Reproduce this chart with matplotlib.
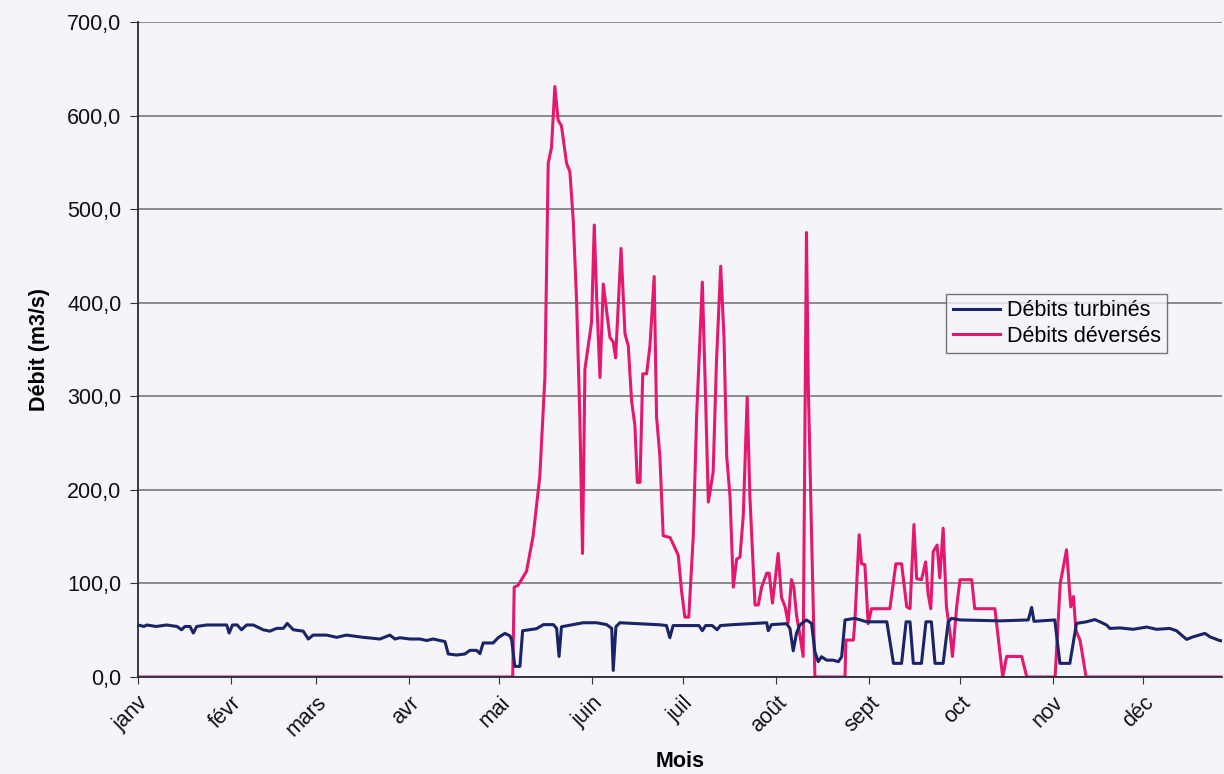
import matplotlib
matplotlib.use("Agg")
import matplotlib.pyplot as plt

plt.rcParams['font.family'] = ['Liberation Sans', 'DejaVu Sans']

# Month labels and first day-of-year of each month
months = ["janv", "févr", "mars", "avr", "mai", "juin", "juil", "août",
          "sept", "oct", "nov", "déc"]
month_start = [0, 31, 59, 90, 120, 151, 181, 212, 243, 273, 304, 334]

# Débits turbinés (day of year, m3/s)
turb_days = [0, 2, 3, 6, 9.5, 13, 14.5, 15.6, 17.3, 18.4, 19.5, 22.8, 29.5, 30.3, 31.4,
             33, 34.4, 36.1, 38.3, 41.6, 43.8, 46.1, 48.3, 49.6, 51.6, 54.9, 56.6,
             58.2, 62.7, 66, 69.3, 74.9, 80.4, 83.7, 85.4, 87, 90.4, 93.7, 95.9,
             98.1, 100.3, 102, 103.1, 105.9, 108.6, 110.3, 112.5, 113.6, 114.7,
             118, 119.7, 121.9, 123.6, 124.2, 125.2, 126.9, 127.8, 132.4, 134.7,
             138, 139.1, 139.9, 140.7, 147.9, 152.4, 155.7, 157.4, 157.9, 158.8,
             160.1, 173.4, 175.6, 176.7, 177.8, 186.4, 187.5, 188.6, 190.8, 192.4,
             193.5, 197.8, 208.9, 209.4, 210.5, 215.5, 216.6, 217.7, 218.8, 219.9,
             222.1, 223.8, 224.9, 226, 227.1, 228.8, 231, 232.7, 233.8, 234.9,
             238.2, 242.1, 248.8, 251, 253.7, 255.2, 256.5, 257.6, 260.3, 261.8,
             263.6, 264.8, 267.5, 269.2, 270.3, 273.1, 286.4, 295.8, 296.9, 297.7,
             304.6, 306.3, 309.6, 311.8, 315.1, 317.9, 319.6, 321.8, 322.9, 326.2,
             330.6, 335.1, 338.4, 342.8, 345, 348.4, 350.6, 352.8, 354.5, 356.1,
             359.5, 361]
turb_vals = [55.6, 54.1, 55.6, 54, 55.6, 54, 50.5, 54, 54, 47, 54, 55.6, 55.6, 47, 55.6,
             55.6, 50.5, 55.6, 55.6, 50.5, 49, 52, 52, 57.3, 50.5, 49, 40.6,
             44.8, 44.8, 42.4, 44.8, 42.4, 40.6, 44.8, 40.6, 42, 40.6, 40.6, 39,
             40.6, 39, 37.9, 24.6, 23.5, 24.6, 28.5, 28.5, 25, 36.4,
             36.4, 42.1, 46.6, 44, 39, 11.4, 11.4, 49.5, 51.6, 56,
             56, 52, 22, 53.7, 58, 58, 56, 52, 7, 53.7,
             58, 55.8, 55, 42, 55, 55, 49.5, 55, 55, 50.5,
             55, 56, 58, 49.5, 56, 57, 52, 28, 47, 55.6,
             61, 57.3, 27, 16.4, 21.7, 18, 18, 16.4, 21.7, 61,
             62.7, 59, 59, 14.6, 14.6, 59, 59, 14.6, 14.6, 59,
             59, 14.6, 14.6, 59, 62.7, 61, 60, 61, 74.4, 59.5,
             61, 14.6, 14.6, 57.3, 59, 61.4, 59, 55.6, 51.9, 52.5,
             51, 53.4, 51, 51.9, 49.5, 40.2, 43, 45, 46.6, 43,
             38.8, 38.8]

# Débits déversés (day of year, m3/s)
dev_days = [0, 124.5, 125, 126.3, 129.1, 131.3, 133.5, 135.2, 136.3, 137.4, 138.5,
            139.6, 140.7, 142.4, 143.5, 144.6, 145.7, 146.8, 147.7, 148.5, 150.7,
            151.6, 152.4, 153.5, 154.6, 156.8, 157.9, 158.7, 160.5, 161.8, 162.9,
            164, 165.1, 165.9, 166.8, 167.7, 169, 170.1, 171.5, 172.3, 173.4,
            174.5, 176.8, 178.4, 179.5, 180.6, 181.7, 183, 184.5, 185.6, 187.5,
            188.4, 189.5, 191.1, 192.2, 193.6, 194.7, 195.6, 196.7, 197.8, 198.9,
            200, 201.1, 202.4, 203.3, 204.4, 205, 206.1, 207.2, 208.9, 209.7,
            210.8, 212, 212.7, 213.8, 215, 216, 217.1, 217.9, 218.8, 219.9,
            221, 222.1, 222.7, 223.8, 224.9, 234.9, 235.2, 237.7, 238.2, 239.6,
            240.4, 241.5, 242.6, 243.7, 249.8, 251.8, 253.7, 255.4, 256.5, 257.8,
            258.7, 260.3, 261.7, 262.5, 263.4, 264.2, 265.5, 266.4, 267.5, 268.6,
            269.8, 270.6, 272, 273.1, 277, 278, 284.7, 287.3, 288.6, 293.6,
            295.3, 304.7, 306.4, 308.5, 309.9, 310.8, 311.6, 313, 315, 361]
dev_vals = [0, 0, 96, 98, 113, 151, 214, 320, 549, 566, 631,
            595, 589, 549, 540, 489, 405, 278, 132, 329, 379,
            483, 405, 320, 420, 363, 358, 341, 458, 367, 354,
            295, 269, 208, 208, 324, 324, 354, 428, 278, 236,
            151, 149, 138, 130, 92, 64, 64, 151, 278, 422,
            320, 187, 219, 337, 439, 363, 236, 193, 96, 126,
            128, 172, 299, 193, 117, 77, 77, 96, 111, 111,
            79, 113, 132, 85, 75, 58, 104, 96, 66, 45,
            22, 475, 312, 151, 0, 0, 39.5, 39.5, 61, 152,
            121, 120, 57, 73, 73, 121, 121, 75, 73, 163,
            105, 104, 123, 89, 73, 134, 141, 106, 159, 75,
            47, 22, 75, 104, 104, 73, 73, 0, 22, 22,
            0, 0, 100, 136, 75, 86, 50, 39, 0, 0]

y_ticks = [0, 100, 200, 300, 400, 500, 600, 700]
y_labels = ["0,0", "100,0", "200,0", "300,0", "400,0", "500,0", "600,0", "700,0"]

bg = "#f4f4f9"
fs = 15.5
fig = plt.figure(figsize=(12.24, 7.74), dpi=100, facecolor=bg)
ax = fig.add_axes([0.1127, 0.1253, 0.8853, 0.8463], facecolor=bg)

ax.plot(turb_days, turb_vals, color="#1b2466", lw=2.2, label="Débits turbinés", zorder=3)
ax.plot(dev_days, dev_vals, color="#e3186e", lw=2.2, label="Débits déversés", zorder=2)

ax.set_xlim(0, 360)
ax.set_ylim(0, 700)
ax.set_yticks(y_ticks)
ax.set_yticklabels(y_labels, fontsize=fs, color="#111111")
ax.set_xticks(month_start)
ax.set_xticklabels(months, fontsize=fs, rotation=45, ha="right", va="top",
                   rotation_mode="anchor", color="#111111")
ax.tick_params(axis="x", direction="out", length=5, pad=6, color="#333333")
ax.tick_params(axis="y", direction="out", length=6, pad=6, color="#333333")

ax.grid(axis="y", color="#6e6e6e", lw=1.1)
ax.set_axisbelow(True)
for s in ["top", "right"]:
    ax.spines[s].set_visible(False)
ax.spines["left"].set_color("#2a2a3a")
ax.spines["bottom"].set_color("#2a2a3a")
ax.spines["left"].set_linewidth(1.3)
ax.spines["bottom"].set_linewidth(1.3)

ax.set_xlabel("Mois", fontsize=fs, fontweight="bold", labelpad=7)
ax.set_ylabel("Débit (m3/s)", fontsize=fs, fontweight="bold", labelpad=12)

leg = ax.legend(loc="upper left", bbox_to_anchor=(0.746, 0.585), fontsize=fs,
                frameon=True, fancybox=False, handlelength=2.2, handletextpad=0.3,
                borderpad=0.3, labelspacing=0.2, borderaxespad=0)
leg.get_frame().set_edgecolor("#555555")
leg.get_frame().set_facecolor(bg)
leg.get_frame().set_linewidth(1.0)

fig.savefig("out.png", dpi=100, facecolor=bg)
